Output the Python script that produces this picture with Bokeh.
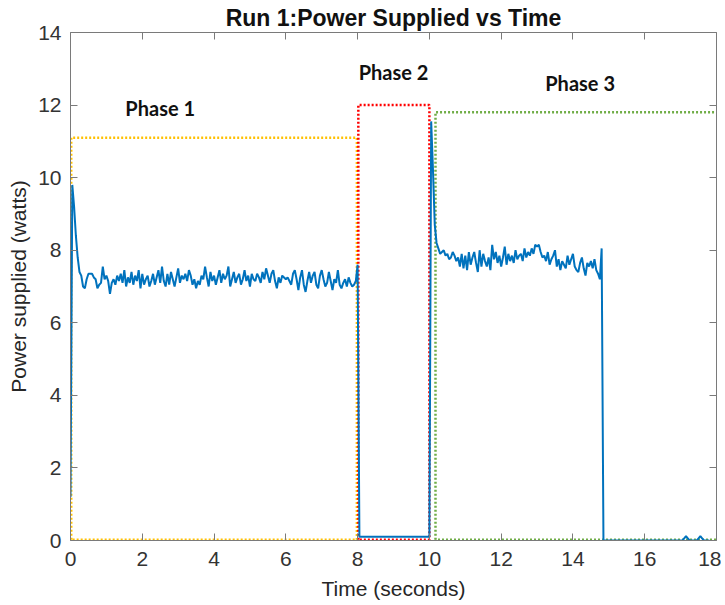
from bokeh.plotting import figure
from bokeh.models import LinearAxis, SingleIntervalTicker, Range1d
from bokeh.core.properties import value
from bokeh.embed import file_html
from bokeh.resources import INLINE

# ---------------- data ----------------
SAMPLE_PERIOD = 0.05  # seconds between samples

phase1_power = [
    1.20, 9.80, 9.20, 8.40, 7.80, 7.40, 7.30,
    7.00, 6.95, 7.20, 7.35, 7.35, 7.35, 7.25, 7.20, 6.95, 7.05,
    7.10, 7.55, 7.20, 7.30, 7.15, 6.80, 7.10, 7.20, 7.05, 7.30,
    7.15, 7.35, 7.10, 7.45, 7.00, 7.25, 7.10, 7.40, 7.05, 7.30,
    7.15, 7.45, 6.95, 7.35, 7.05, 7.20, 7.30, 7.00, 7.15, 7.35,
    7.05, 7.25, 7.45, 7.10, 7.55, 7.15, 7.00, 7.35, 7.05, 7.40,
    7.20, 7.00, 7.25, 7.50, 7.10, 7.30, 7.20, 7.35, 7.15, 7.45,
    7.30, 7.05, 7.20, 6.95, 7.15, 7.05, 7.30, 7.20, 7.55, 7.25,
    7.00, 7.40, 7.15, 7.30, 7.05, 7.25, 7.45, 7.10, 7.35, 7.20,
    7.30, 7.55, 7.00, 7.20, 7.40, 7.10, 7.25, 7.35, 7.05, 7.20,
    7.45, 7.15, 7.30, 7.00, 7.35, 7.20, 7.15, 7.35, 7.25, 7.10,
    7.40, 7.20, 7.50, 7.30, 7.10, 7.35, 7.45, 7.15, 6.95, 7.25,
    7.10, 7.30, 7.25, 7.20, 7.25, 7.15, 7.05, 7.35, 7.45, 7.20,
    6.90, 7.25, 7.45, 7.05, 6.85, 7.15, 7.40, 7.10, 7.30, 7.40,
    7.05, 6.95, 7.30, 7.45, 7.20, 7.00, 7.10, 7.40, 7.15, 6.90,
    7.20, 7.10, 7.45, 7.05, 6.95, 7.10, 7.20, 7.00, 7.25, 7.10,
    7.00, 7.05, 7.15, 7.60,
]

phase2_power = [0.10] * 40

phase3_power = [
    11.55, 10.20, 8.70, 8.20, 8.05, 7.90,
    7.95, 8.00, 7.85, 7.90, 7.75, 7.80, 7.95, 7.85, 7.70, 7.80,
    7.55, 7.90, 7.50, 7.85, 7.45, 7.95, 7.60, 7.80, 7.95, 7.65,
    7.40, 8.00, 7.55, 7.90, 7.70, 7.55, 7.80, 7.45, 8.15, 7.75,
    7.95, 7.65, 7.85, 7.55, 7.80, 8.10, 7.60, 7.90, 7.70, 7.85,
    7.65, 8.00, 7.75, 7.85, 7.90, 7.70, 8.05, 7.80, 7.95, 7.85,
    8.05, 7.90, 8.15, 8.10, 8.15, 7.95, 7.80, 7.85, 7.70, 7.95,
    7.60, 7.75, 7.85, 8.00, 7.55, 7.75, 7.45, 7.70, 7.60, 7.50,
    7.85, 7.60, 7.75, 7.90, 7.55, 7.45, 7.40, 7.65, 7.80, 7.50,
    7.30, 7.65, 7.55, 7.70, 7.50, 7.75, 7.45, 7.35, 7.20,
    8.05,
]

after_power = [0.0] * 45 + [0.06, 0.12, 0.06] + [0.0] * 5 + [0.06, 0.12, 0.06] + [0.0] * 4

power = phase1_power + phase2_power + phase3_power + after_power
time = [round(i * SAMPLE_PERIOD, 2) for i in range(len(power))]

phase_names = ["Phase 1", "Phase 2", "Phase 3"]
phase_start = [0.02, 8.02, 10.17]
phase_end = [7.98, 10.0, 18.05]
phase_top = [11.1, 12.0, 11.8]
phase_colors = ["#FFC000", "#FF0000", "#70AD47"]
label_x = [2.5, 9.0, 14.2]
label_y = [11.92, 12.92, 12.6]

x_ticks_interval = 2
y_ticks_interval = 2

# ---------------- figure ----------------
p = figure(width=721, height=605, output_backend="svg", toolbar_location=None,
           x_range=Range1d(0, 18), y_range=Range1d(0, 14),
           title="Run 1:Power Supplied vs Time",
           min_border_left=70, min_border_right=5, min_border_top=32, min_border_bottom=65)
p.grid.visible = False
p.outline_line_color = None
p.background_fill_color = "white"

p.title.align = "center"
p.title.text_font = "Liberation Sans"
p.title.text_font_size = "23px"
p.title.text_font_style = "bold"
p.title.text_color = "#111111"
p.title.standoff = 3

axis_col = "#7a7a7a"
lab_col = "#333333"

for ax, iv in ((p.xaxis[0], x_ticks_interval), (p.yaxis[0], y_ticks_interval)):
    ax.ticker = SingleIntervalTicker(interval=iv, num_minor_ticks=0)
    ax.major_tick_in = 7
    ax.major_tick_out = 0
    ax.minor_tick_line_color = None
    ax.axis_line_color = axis_col
    ax.major_tick_line_color = axis_col
    ax.major_label_text_color = lab_col
    ax.major_label_text_font = "Liberation Sans"
    ax.major_label_text_font_size = "21px"
    ax.axis_label_text_font = "Liberation Sans"
    ax.axis_label_text_font_size = "21px"
    ax.axis_label_text_font_style = "normal"
    ax.axis_label_text_color = "#262626"

p.xaxis.axis_label = "Time (seconds)"
p.yaxis.axis_label = "Power supplied (watts)"
p.xaxis.major_label_standoff = 11
p.xaxis.axis_label_standoff = 8
p.yaxis.major_label_standoff = 9
p.yaxis.axis_label_standoff = 5

for loc, iv in (("above", x_ticks_interval), ("right", y_ticks_interval)):
    ax = LinearAxis(ticker=SingleIntervalTicker(interval=iv, num_minor_ticks=0),
                    major_tick_in=7, major_tick_out=0, major_label_text_font_size="0px",
                    major_label_text_color=None,
                    major_label_standoff=0, axis_line_color=axis_col,
                    major_tick_line_color=axis_col, minor_tick_line_color=None)
    p.add_layout(ax, loc)

# phase boxes
for s, e, t, c in zip(phase_start, phase_end, phase_top, phase_colors):
    p.line([s, s, e, e, s], [0.02, t, t, 0.02, 0.02], line_color=c, line_width=2.5, line_dash="2 2")

# power trace
p.line(time, power, line_color="#0072BD", line_width=2)

# phase labels
p.text(x=label_x, y=label_y, text=phase_names, text_font=value("Lato"),
       text_font_style="bold", text_font_size="20px", text_align="center",
       text_baseline="middle", text_color="#111111")

open("out.html", "w").write(file_html(p, INLINE))
